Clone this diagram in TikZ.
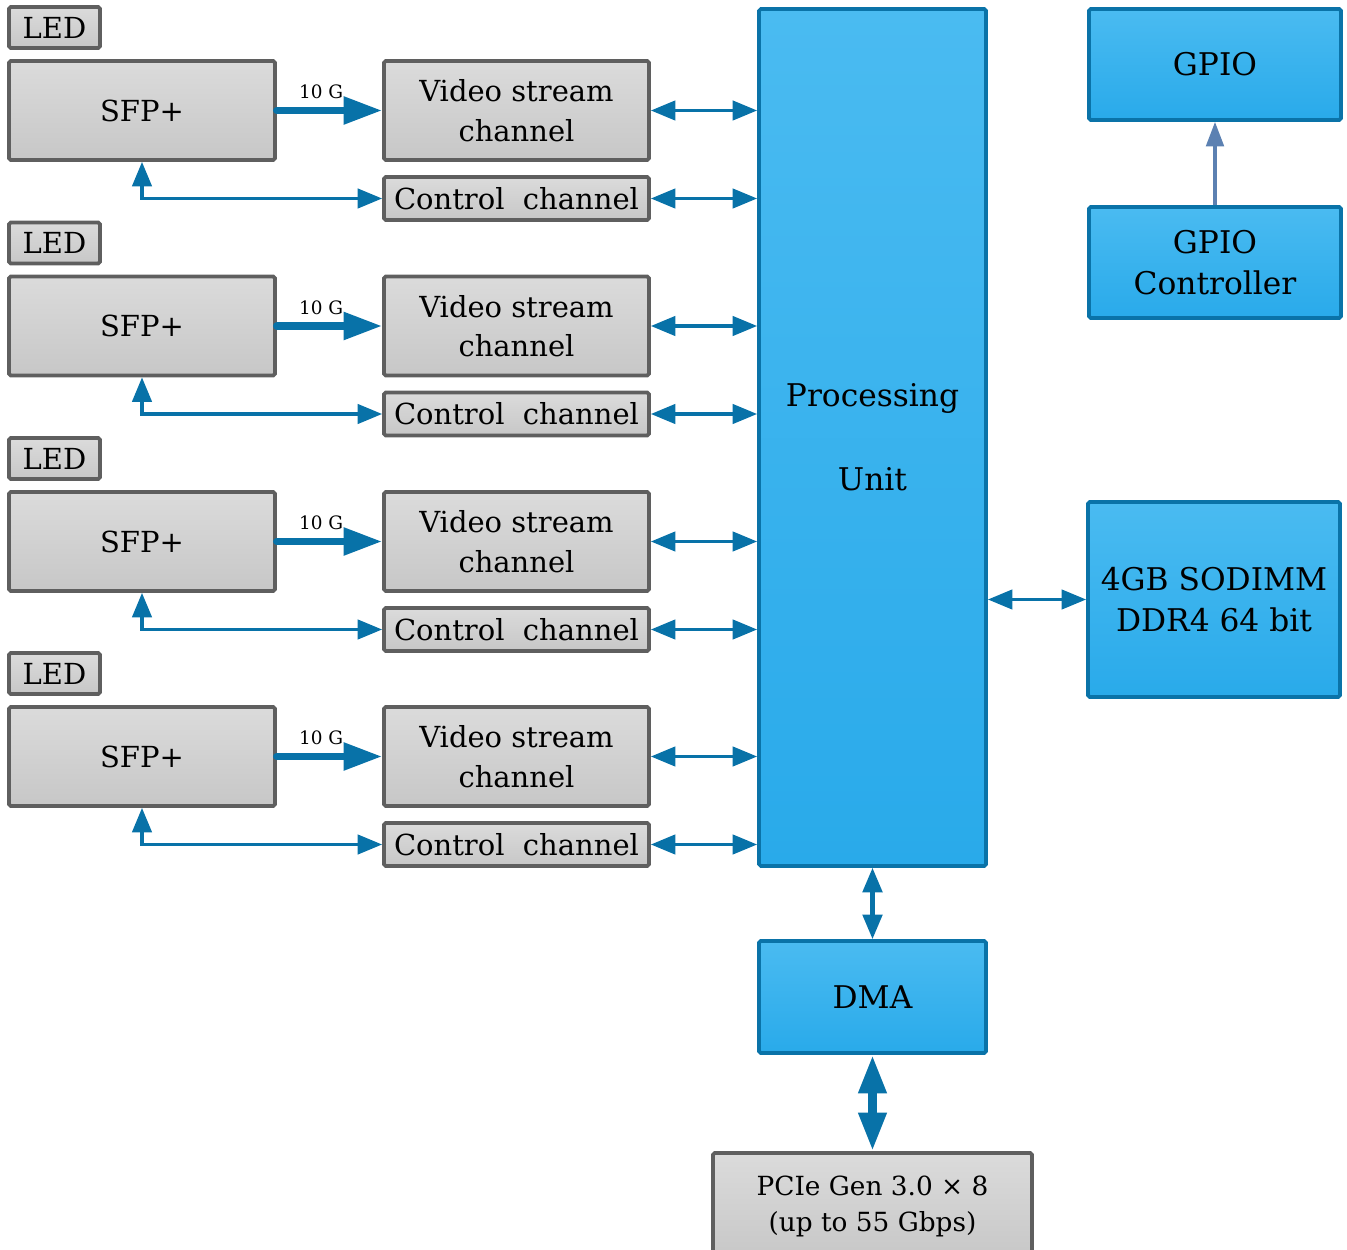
\documentclass[tikz,border=0pt]{standalone}
\usepackage{fontspec}
\setmainfont{DejaVu Serif}
\usepackage{xcolor}
\usetikzlibrary{arrows.meta, positioning}

\definecolor{greytop}{RGB}{219,219,219}
\definecolor{greybot}{RGB}{199,199,199}
\definecolor{greyedge}{RGB}{95,95,95}
\definecolor{unittop}{RGB}{74,187,241}
\definecolor{unitbot}{RGB}{41,170,234}
\definecolor{unitedge}{RGB}{10,115,168}
\definecolor{linkblue}{RGB}{8,114,168}
\definecolor{gpioline}{RGB}{92,129,178}

\begin{document}
\begin{tikzpicture}[x=0.02cm, y=-0.02cm, font=\fontsize{16.5}{22.5}\selectfont]
	\tikzstyle{grey} = [draw=greyedge, line width=2.1pt, top color=greytop, bottom color=greybot, rounded corners=1pt, align=center, inner sep=0pt]
	\tikzstyle{unit} = [draw=unitedge, line width=2.1pt, top color=unittop, bottom color=unitbot, rounded corners=1pt, align=center, inner sep=0pt, font=\fontsize{17.8}{23.5}\selectfont]
	\tikzstyle{link} = [draw=linkblue, line width=2pt, {Triangle[length=14pt, width=11pt]}-{Triangle[length=14pt, width=11pt]}]
	\tikzstyle{fat} = [draw=linkblue, line width=4.3pt, line cap=round, -{Triangle[length=22pt, width=15pt]}]

	\useasboundingbox (0, 0) rectangle (1347, 1250);

	% four SFP+ rows
	\foreach \i/\y in {1/0, 2/215.5, 3/431, 4/646} {
		\node[grey, minimum width=1.82cm, minimum height=0.82cm]	at (54.5, 27.5+\y)	(led\i)	{LED};
		\node[grey, minimum width=5.32cm, minimum height=1.98cm]	at (142, 110.5+\y)	(sfp\i)	{SFP+};
		\node[grey, minimum width=5.30cm, minimum height=1.98cm]	at (516.5, 110.5+\y)	(vid\i)	{Video stream\\channel};
		\node[grey, minimum width=5.30cm, minimum height=0.86cm]	at (516.5, 198.5+\y)	(ctl\i)	{Control\ \ channel};
	}

	\node[unit, minimum width=4.54cm, minimum height=17.14cm]	at (872.5, 437.5)	(pu)	{Processing\\[0.85cm]Unit};
	\node[unit, minimum width=5.04cm, minimum height=2.22cm]	at (1215, 64.5)		(gpio)	{GPIO};
	\node[unit, minimum width=5.04cm, minimum height=2.22cm]	at (1215, 262.5)	(ctrl)	{GPIO\\Controller};
	\node[unit, minimum width=5.04cm, minimum height=3.90cm]	at (1214, 599.5)	(mem)	{4GB SODIMM\\DDR4 64 bit};
	\node[unit, minimum width=4.54cm, minimum height=2.24cm]	at (872.5, 997)		(dma)	{DMA};
	\node[grey, minimum width=6.38cm, minimum height=2.14cm, font=\fontsize{15}{21}\selectfont]	at (872.5, 1206.5)	(pcie)	{PCIe Gen 3.0 × 8\\(up to 55 Gbps)};

	\foreach \i in {1, 2, 3, 4} {
		\draw[fat] (sfp\i.east) -- node[pos=0.42, above=1pt, font=\fontsize{10.5}{12}\selectfont] {10 G} (vid\i.west);
		\draw[link] (sfp\i.south) |- (ctl\i.west);
		\draw[link] (vid\i.east) -- (vid\i.east -| pu.west);
		\draw[link] (ctl\i.east) -- (ctl\i.east -| pu.west);
	}

	\draw[link] (pu.east |- mem.west) -- (mem.west);
	\draw[link, line width=2.4pt] (pu.south) -- (dma.north);
	\draw[draw=linkblue, line width=5.2pt, {Triangle[length=22pt, width=15pt]}-{Triangle[length=22pt, width=15pt]}] (dma.south) -- (pcie.north);
	\draw[draw=gpioline, line width=2pt, -{Triangle[length=14pt, width=10pt]}] (ctrl.north) -- (gpio.south);
\end{tikzpicture}
\end{document}
